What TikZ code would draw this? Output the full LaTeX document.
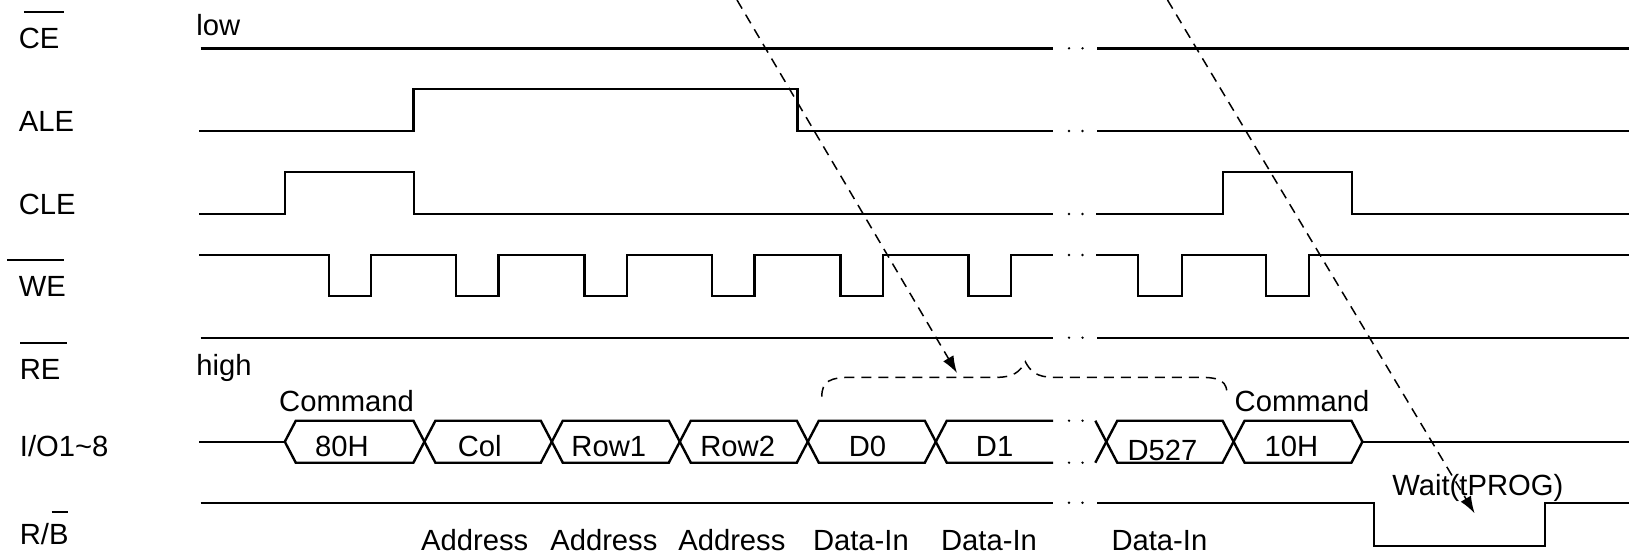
\documentclass[tikz,border=0pt]{standalone}
\usepackage{fontspec}
\setmainfont{Liberation Sans}
\usetikzlibrary{arrows.meta}
\begin{document}
\begin{tikzpicture}[x=0.5pt,y=-0.5pt,
  sig/.style={line width=1.2pt, line join=miter},
  ovl/.style={line width=1.1pt},
  txt/.style={inner sep=0pt, font=\fontsize{14.6pt}{17pt}\selectfont},
  lbl/.style={txt, anchor=base west},
  ctr/.style={txt, anchor=base},
  dsh/.style={line width=0.75pt, dash pattern=on 5pt off 3.5pt},
  arr/.style={dsh, -{Latex[length=8.5pt,width=6pt]}},
  brkdot/.style={fill=black}
]
\useasboundingbox (0,0) rectangle (1631,554);

% ---- signal names ----
\node[lbl] (nCE)  at (18.5,48.3)  {CE};
\node[lbl] (nALE) at (18.5,131)   {ALE};
\node[lbl] (nCLE) at (18.5,214)   {CLE};
\node[lbl] (nWE)  at (18.5,296)   {WE};
\node[lbl] (nRE)  at (19.5,379)   {RE};
\node[lbl] (nIO)  at (19.5,456.7) {I/O1\char`\~8};
\node[lbl] (nRB)  at (19.5,544)   {R/B};
\draw[ovl] (23.9,12) -- (64.2,12);
\draw[ovl] (7,260.3) -- (64.2,260.3);
\draw[ovl] (20.3,342.7) -- (66.6,342.7);
\draw[ovl] (51.7,511.7) -- (67.7,511.7);

% ---- break dots ----
\foreach \yy in {48.3,131,214,255,337.7,420.7,462.7,502.7}{
  \fill[brkdot] (1069,\yy) circle[radius=0.65pt];
  \fill[brkdot] (1082.5,\yy) circle[radius=0.65pt];
}

% ---- CE ----
\node[lbl] (tlow) at (196,35) {low};
\draw[sig] (200.6,48.3) -- (1053,48.3);
\draw[sig] (1097,48.3) -- (1629,48.3);

% ---- ALE ----
\draw[sig] (199,131) -- (413.5,131) -- (413.5,89) -- (797.3,89) -- (797.3,131) -- (1053,131);
\draw[sig] (1097,131) -- (1629,131);

% ---- CLE ----
\draw[sig] (199,214) -- (285.2,214) -- (285.2,171.7) -- (413.9,171.7) -- (413.9,214) -- (1053,214);
\draw[sig] (1096,214) -- (1223.1,214) -- (1223.1,171.7) -- (1351.8,171.7) -- (1351.8,214) -- (1629,214);

% ---- WE ----
\draw[sig] (199,255) foreach \f in {328.7,456,584.4,712,840.4,968.5}{
   -- (\f,255) -- (\f,296) -- (\f+42.5,296) -- (\f+42.5,255) } -- (1053,255);
\draw[sig] (1096,255) -- (1137.9,255) -- (1137.9,296) -- (1181.7,296) -- (1181.7,255)
   -- (1265.9,255) -- (1265.9,296) -- (1308.7,296) -- (1308.7,255) -- (1629,255);

% ---- RE ----
\node[lbl] (thigh) at (196,375) {high};
\draw[sig] (200.6,337.7) -- (1053,337.7);
\draw[sig] (1097,337.7) -- (1629,337.7);

% ---- I/O ----
\draw[sig] (199,441.7) -- (284.8,441.7);
\foreach \a/\b in {284.8/424.4, 424.4/551.8, 551.8/679.8, 679.8/807.8, 807.8/935.8, 1106.3/1233.6, 1233.6/1362.4}{
  \draw[sig] (\a,441.7) -- (\a+11,420.7) -- (\b-11,420.7) -- (\b,441.7) -- (\b-11,462.7) -- (\a+11,462.7) -- cycle;
}
\draw[sig] (1053,420.7) -- (946.8,420.7) -- (935.8,441.7) -- (946.8,462.7) -- (1053,462.7);
\draw[sig] (1095.3,420.7) -- (1106.3,441.7) -- (1095.3,462.7);
\draw[sig] (1362.4,441.7) -- (1629,441.7);

\node[lbl] (tcmd1) at (278.8,411) {Command};
\node[lbl] (tcmd2) at (1234.3,411) {Command};
\node[ctr] (t80)  at (342,456.7)   {80H};
\node[ctr] (tcol) at (479.7,456.7) {Col};
\node[ctr] (tr1)  at (608.8,456.7) {Row1};
\node[ctr] (tr2)  at (737.7,456.7) {Row2};
\node[ctr] (td0)  at (867.5,456.7) {D0};
\node[ctr] (td1)  at (994.6,456.7) {D1};
\node[ctr] (td5)  at (1162.4,460)  {D527};
\node[ctr] (t10)  at (1291.4,456.7) {10H};

% ---- R/B ----
\draw[sig] (200.6,502.7) -- (1053,502.7);
\draw[sig] (1097,502.7) -- (1374,502.7) -- (1374,545.7) -- (1544.8,545.7) -- (1544.8,502.7) -- (1629,502.7);
\node[lbl] (twait) at (1392,495) {Wait(tPROG)};

% ---- bottom labels ----
\node[lbl] (ad1) at (420.8,550) {Address};
\node[lbl] (ad2) at (549.9,550) {Address};
\node[lbl] (ad3) at (677.9,550) {Address};
\node[lbl] (di1) at (812.6,550) {Data-In};
\node[lbl] (di2) at (940.7,550) {Data-In};
\node[lbl] (di3) at (1111.1,550) {Data-In};

% ---- dashed brace ----
\draw[dsh] (821.8,396.7) .. controls (821.8,381) and (830,377.3) .. (852,377.3)
   -- (997,377.3) .. controls (1013,377.3) and (1020,372) .. (1025.3,361.7)
   .. controls (1030.6,372) and (1037.6,377.3) .. (1053.6,377.3)
   -- (1199,377.3) .. controls (1221,377.3) and (1227.3,381) .. (1227.3,396.7);

% ---- dashed arrows ----
\coordinate (a1s) at (737,0);
\coordinate (a1e) at (957,373);
\coordinate (a2s) at (1167.5,0);
\coordinate (a2e) at (1474.6,513.3);
\draw[arr] (a1s) -- (a1e);
\draw[arr] (a2s) -- (a2e);
\end{tikzpicture}
\end{document}
